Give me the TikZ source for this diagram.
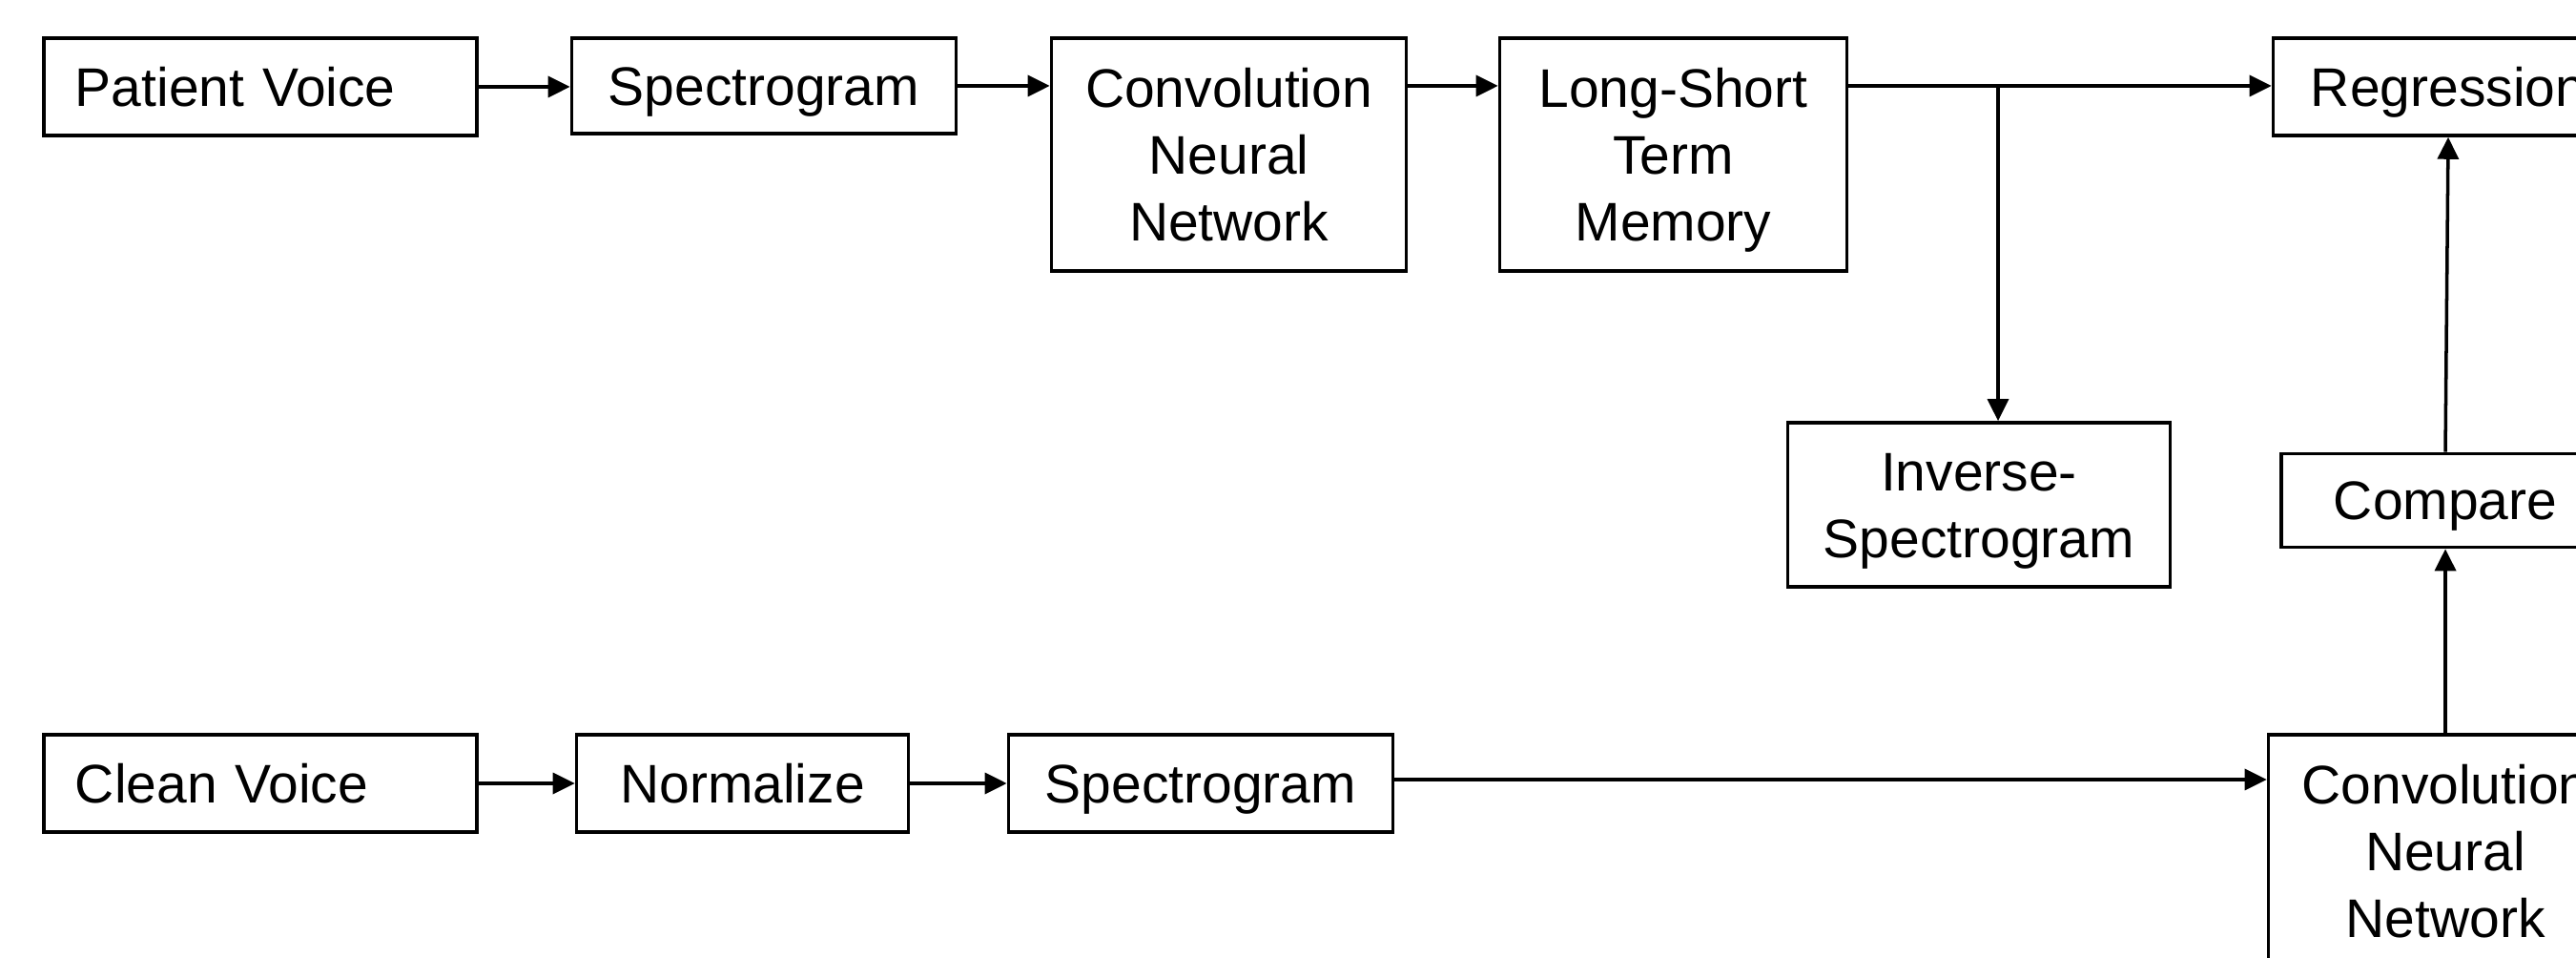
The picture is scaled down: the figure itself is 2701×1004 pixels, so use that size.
\documentclass[tikz,border=0pt]{standalone}
\usepackage{fontspec}
\setmainfont{Liberation Sans}
\usetikzlibrary{arrows.meta}
\newcommand{\TopStrut}{\rule{0pt}{15.8pt}}
\begin{document}
\begin{tikzpicture}[x=0.01cm,y=-0.01cm,
  box/.style={draw, line width=1pt, inner sep=0pt, align=center,
    font=\fontsize{16.2}{19.9}\selectfont,
    execute at begin node={\rule{0pt}{16pt}},
    execute at end node={\rule[-4.4pt]{0pt}{4.4pt}}},
  leftbox/.style={box, inner xsep=0.33cm, text width=3.88cm, align=left},
  arr/.style={line width=1pt, -{Triangle[length=0.23cm,width=0.22cm]}}]
\useasboundingbox (0,0) rectangle (2701,1004);
\clip (0,0) rectangle (2701,1004);
% top row
\node[leftbox, minimum width=4.54cm, minimum height=1.02cm] (pv) at (273,91) {Patient Voice};
\node[box, minimum width=4.03cm, minimum height=1.00cm] (sp1) at (801,90) {Spectrogram};
\node[box, minimum width=3.72cm, minimum height=2.44cm] (cnn1) at (1288.5,162) {\TopStrut Convolution\\Neural\\Network};
\node[box, minimum width=3.64cm, minimum height=2.44cm] (lstm) at (1754.5,162) {\TopStrut Long-Short\\Term\\Memory};
\node[box, minimum width=3.67cm, minimum height=1.02cm] (reg) at (2567,91) {Regression};
% middle
\node[box, minimum width=4.01cm, minimum height=1.72cm] (inv) at (2075,529) {\TopStrut Inverse-\\Spectrogram};
\node[box, minimum width=3.44cm, minimum height=0.98cm] (cmp) at (2564,524.5) {Compare};
% bottom row
\node[leftbox, minimum width=4.54cm, minimum height=1.02cm] (cv) at (273,821) {Clean Voice};
\node[box, minimum width=3.48cm, minimum height=1.02cm] (norm) at (778.6,821) {Normalize};
\node[box, minimum width=4.03cm, minimum height=1.02cm] (sp2) at (1259,821) {Spectrogram};
\node[box, minimum width=3.71cm, minimum height=2.44cm] (cnn2) at (2564,892) {\TopStrut Convolution\\Neural\\Network};
% connectors
\coordinate (br) at (2095,90);
\draw[arr] (pv.east) -- (pv.east -| sp1.west);
\draw[arr] (sp1.east) -- (sp1.east -| cnn1.west);
\draw[arr] (cnn1.east |- sp1.east) -- (lstm.west |- sp1.east);
\draw[arr] (lstm.east |- br) -- (reg.west |- br);
\draw[arr] (br) -- (br |- inv.north);
\draw[arr] (cmp.north) -- (reg.south);
\draw[arr] (cnn2.north) -- (cmp.south);
\draw[arr] (cv.east) -- (cv.east -| norm.west);
\draw[arr] (norm.east) -- (norm.east -| sp2.west);
\draw[arr] ([yshift=0.04cm]sp2.east) -- ([yshift=0.04cm]sp2.east -| cnn2.west);
\end{tikzpicture}
\end{document}
